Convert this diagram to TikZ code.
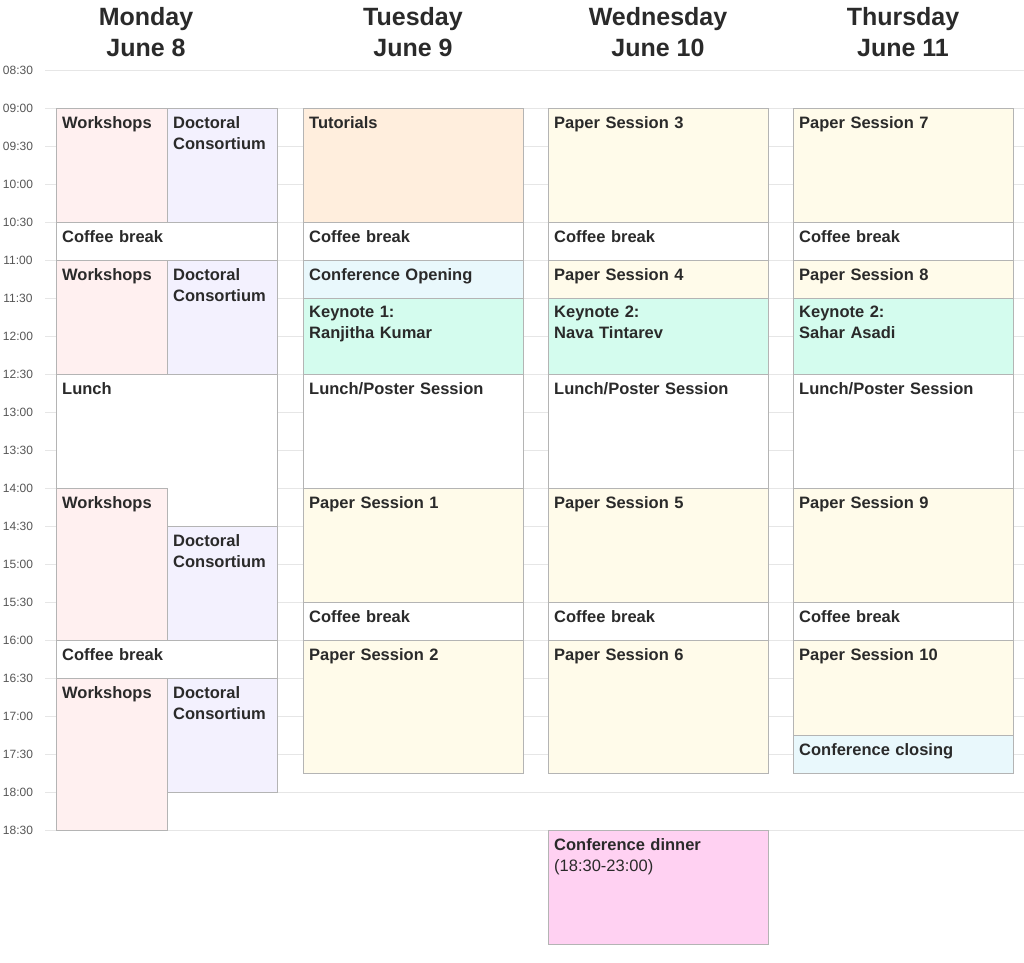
\documentclass[tikz,border=0pt]{standalone}
\usepackage{fontspec}
\setmainfont{Liberation Sans}
\usetikzlibrary{positioning}
\definecolor{wspink}{HTML}{FFF0F0}
\definecolor{dclav}{HTML}{F3F1FE}
\definecolor{tutor}{HTML}{FFEEDD}
\definecolor{paperyel}{HTML}{FFFBEA}
\definecolor{openblue}{HTML}{E9F8FC}
\definecolor{keymint}{HTML}{D4FCEE}
\definecolor{dinpink}{HTML}{FFD1F2}
\definecolor{boxgray}{HTML}{B4B4B4}
\definecolor{gridgray}{HTML}{E6E6E6}
\definecolor{timegray}{HTML}{555555}
\definecolor{txt}{HTML}{2A2A2A}
% event box: name, x1, x2, start slot, end slot, colour, text
\newcommand\evt[7]{%
  \draw[EvtStyle, fill=#6] (#2,{70+38*#4}) rectangle (#3,{70+38*#5});
  \node[EvtLabel, text width={(#3-#2-12)*1pt}] (#1) at ({#2+6},{70+38*#4+8}) {#7};}
\begin{document}
\begin{tikzpicture}[x=1pt,y=-1pt]
  \tikzset{EvtStyle/.style = {draw=boxgray, line width=0.8pt},
           EvtLabel/.style = {anchor=north west, inner sep=0pt, align=left,
                              text=txt, font=\fontsize{16.5}{21}\selectfont\bfseries},
           DayStyle/.style = {align=center, text=txt,
                              font=\fontsize{25}{31}\selectfont\bfseries},
           TimeStyle/.style = {text=timegray, font=\fontsize{12}{12}\selectfont}}
  \useasboundingbox (0,0) rectangle (1024,962);
  %%% GRID %%%
  \foreach \t [count=\k from 0] in {08:30,09:00,09:30,10:00,10:30,11:00,11:30,12:00,12:30,13:00,13:30,14:00,14:30,15:00,15:30,16:00,16:30,17:00,17:30,18:00,18:30}{
    \draw[gridgray, line width=0.7pt] (45,{70+38*\k}) -- (1024,{70+38*\k});
    \node[TimeStyle] (t\k) at (18,{70+38*\k}) {\t};
  }
  %%% DAYS %%%
  \node[DayStyle] (mon) at (146,32) {Monday\\June 8};
  \node[DayStyle] (tue) at (413,32) {Tuesday\\June 9};
  \node[DayStyle] (wed) at (658,32) {Wednesday\\June 10};
  \node[DayStyle] (thu) at (903,32) {Thursday\\June 11};
  %%% MONDAY %%%
  \evt{mws1}{56}{167}{1}{4}{wspink}{Workshops}
  \evt{mdc1}{167}{277}{1}{4}{dclav}{Doctoral Consortium}
  \evt{mcb1}{56}{277}{4}{5}{white}{Coffee break}
  \evt{mws2}{56}{167}{5}{8}{wspink}{Workshops}
  \evt{mdc2}{167}{277}{5}{8}{dclav}{Doctoral Consortium}
  \evt{mlun}{56}{277}{8}{12}{white}{Lunch}
  \evt{mws3}{56}{167}{11}{15}{wspink}{Workshops}
  \evt{mdc3}{167}{277}{12}{15}{dclav}{Doctoral Consortium}
  \evt{mcb2}{56}{277}{15}{16}{white}{Coffee break}
  \evt{mws4}{56}{167}{16}{20}{wspink}{Workshops}
  \evt{mdc4}{167}{277}{16}{19}{dclav}{Doctoral Consortium}
  %%% TUESDAY %%%
  \evt{ttut}{303}{523}{1}{4}{tutor}{Tutorials}
  \evt{tcb1}{303}{523}{4}{5}{white}{Coffee break}
  \evt{topn}{303}{523}{5}{6}{openblue}{Conference Opening}
  \evt{tkey}{303}{523}{6}{8}{keymint}{Keynote 1:\\Ranjitha Kumar}
  \evt{tlun}{303}{523}{8}{11}{white}{Lunch/Poster Session}
  \evt{tps1}{303}{523}{11}{14}{paperyel}{Paper Session 1}
  \evt{tcb2}{303}{523}{14}{15}{white}{Coffee break}
  \evt{tps2}{303}{523}{15}{18.5}{paperyel}{Paper Session 2}
  %%% WEDNESDAY %%%
  \evt{wps3}{548}{768}{1}{4}{paperyel}{Paper Session 3}
  \evt{wcb1}{548}{768}{4}{5}{white}{Coffee break}
  \evt{wps4}{548}{768}{5}{6}{paperyel}{Paper Session 4}
  \evt{wkey}{548}{768}{6}{8}{keymint}{Keynote 2:\\Nava Tintarev}
  \evt{wlun}{548}{768}{8}{11}{white}{Lunch/Poster Session}
  \evt{wps5}{548}{768}{11}{14}{paperyel}{Paper Session 5}
  \evt{wcb2}{548}{768}{14}{15}{white}{Coffee break}
  \evt{wps6}{548}{768}{15}{18.5}{paperyel}{Paper Session 6}
  \evt{wdin}{548}{768}{20}{23}{dinpink}{Conference dinner\\\mdseries(18:30-23:00)}
  %%% THURSDAY %%%
  \evt{hps7}{793}{1013}{1}{4}{paperyel}{Paper Session 7}
  \evt{hcb1}{793}{1013}{4}{5}{white}{Coffee break}
  \evt{hps8}{793}{1013}{5}{6}{paperyel}{Paper Session 8}
  \evt{hkey}{793}{1013}{6}{8}{keymint}{Keynote 2:\\Sahar Asadi}
  \evt{hlun}{793}{1013}{8}{11}{white}{Lunch/Poster Session}
  \evt{hps9}{793}{1013}{11}{14}{paperyel}{Paper Session 9}
  \evt{hcb2}{793}{1013}{14}{15}{white}{Coffee break}
  \evt{hps10}{793}{1013}{15}{17.5}{paperyel}{Paper Session 10}
  \evt{hcls}{793}{1013}{17.5}{18.5}{openblue}{Conference closing}
\end{tikzpicture}
\end{document}
